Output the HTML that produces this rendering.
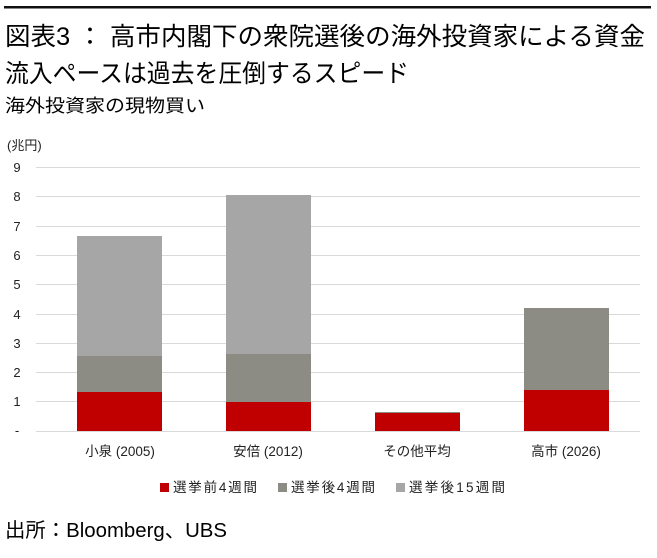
<!DOCTYPE html>
<html><head><meta charset="utf-8"><style>
body{margin:0;width:657px;height:553px;background:#fff;overflow:hidden;font-family:"Liberation Sans","Noto Sans CJK JP",sans-serif;}
</style></head><body>
<svg width="657" height="553" xmlns="http://www.w3.org/2000/svg" style="font-family:'Liberation Sans','Noto Sans CJK JP',sans-serif">
<rect x="4" y="6" width="647" height="2.5" fill="#111"/>
<text x="5" y="45" font-size="25" fill="#000" textLength="640" lengthAdjust="spacingAndGlyphs">図表3 ： 高市内閣下の衆院選後の海外投資家による資金</text>
<text x="5" y="82" font-size="25" fill="#000" textLength="404" lengthAdjust="spacingAndGlyphs">流入ペースは過去を圧倒するスピード</text>
<text x="5" y="112" font-size="18" fill="#000" textLength="200" lengthAdjust="spacingAndGlyphs">海外投資家の現物買い</text>
<text x="7" y="150" font-size="13" fill="#222">(兆円)</text>
<g stroke="#d9d9d9" stroke-width="1">
<line x1="36" x2="640" y1="167.5" y2="167.5"/><line x1="36" x2="640" y1="196.5" y2="196.5"/>
<line x1="36" x2="640" y1="226.5" y2="226.5"/><line x1="36" x2="640" y1="255.5" y2="255.5"/>
<line x1="36" x2="640" y1="284.5" y2="284.5"/><line x1="36" x2="640" y1="314.5" y2="314.5"/>
<line x1="36" x2="640" y1="343.5" y2="343.5"/><line x1="36" x2="640" y1="372.5" y2="372.5"/>
<line x1="36" x2="640" y1="401.5" y2="401.5"/><line x1="36" x2="640" y1="431.5" y2="431.5"/>
</g>
<g font-size="13" fill="#222" text-anchor="middle">
<text x="17" y="172">9</text><text x="17" y="201">8</text><text x="17" y="231">7</text>
<text x="17" y="260">6</text><text x="17" y="289">5</text><text x="17" y="319">4</text>
<text x="17" y="348">3</text><text x="17" y="377">2</text><text x="17" y="406">1</text>
<text x="17" y="435">-</text>
</g>
<rect x="77" y="236" width="85" height="120" fill="#a6a6a6"/>
<rect x="77" y="356" width="85" height="36" fill="#8c8c84"/>
<rect x="77" y="392" width="85" height="39" fill="#c00000"/>
<rect x="226" y="195" width="85" height="159" fill="#a6a6a6"/>
<rect x="226" y="354" width="85" height="48" fill="#8c8c84"/>
<rect x="226" y="402" width="85" height="29" fill="#c00000"/>
<rect x="375" y="412" width="85" height="1" fill="#8c8c84"/>
<rect x="375" y="413" width="85" height="18" fill="#c00000"/>
<rect x="524" y="308" width="85" height="82" fill="#8c8c84"/>
<rect x="524" y="390" width="85" height="41" fill="#c00000"/>
<g font-size="13.5" fill="#222" text-anchor="middle">
<text x="120" y="456">小泉 (2005)</text><text x="268" y="456">安倍 (2012)</text>
<text x="417" y="456">その他平均</text><text x="566" y="456">高市 (2026)</text>
</g>
<g font-size="13.5" fill="#222">
<rect x="160" y="483" width="9" height="9" fill="#c00000"/><text x="173" y="492" textLength="84">選挙前4週間</text>
<rect x="278" y="483" width="9" height="9" fill="#8c8c84"/><text x="291" y="492" textLength="84">選挙後4週間</text>
<rect x="396" y="483" width="9" height="9" fill="#a6a6a6"/><text x="409" y="492" textLength="96">選挙後15週間</text>
</g>
<text x="5" y="537" font-size="20" fill="#000" textLength="222" lengthAdjust="spacingAndGlyphs">出所：Bloomberg、UBS</text>
</svg>
</body></html>
